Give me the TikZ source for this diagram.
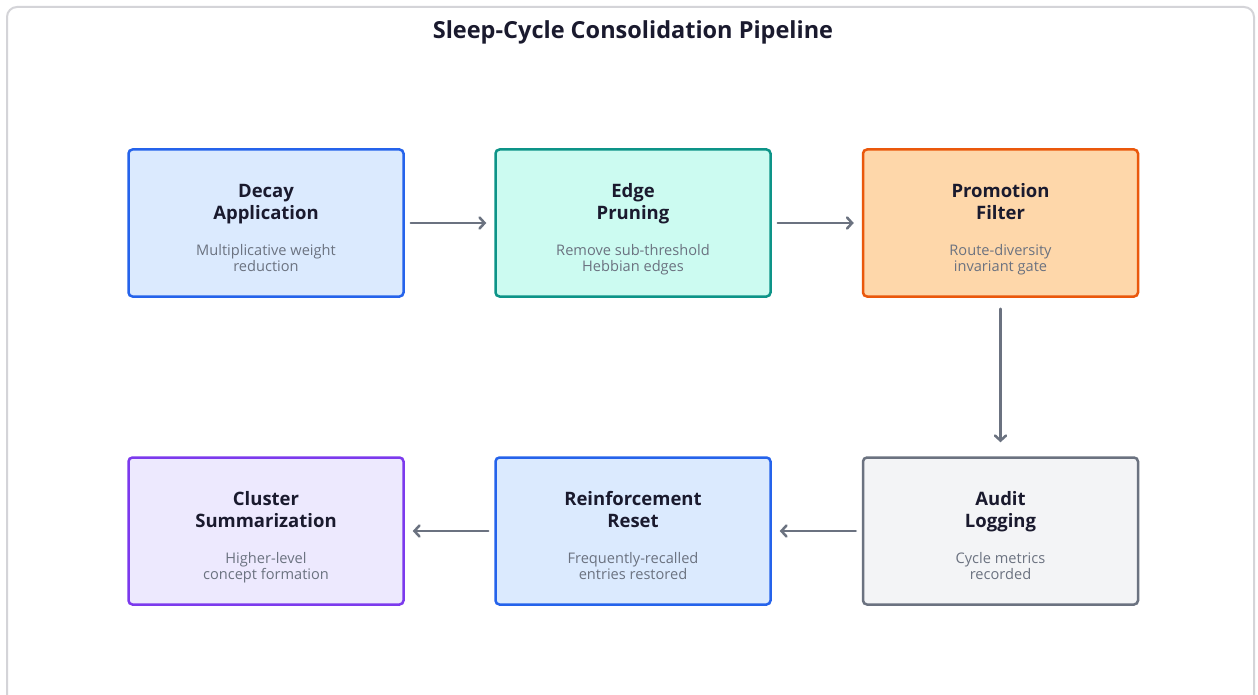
\documentclass[tikz,border=0pt]{standalone}
\usepackage{fontspec}
\setmainfont{Open Sans}
\usetikzlibrary{arrows.meta}

\definecolor{framec}{HTML}{D4D4D8}
\definecolor{titlec}{HTML}{1A1A2E}
\definecolor{subc}{HTML}{6B7280}
\definecolor{arrowc}{HTML}{6B7280}
\definecolor{blueF}{HTML}{DBEAFE}\definecolor{blueD}{HTML}{2563EB}
\definecolor{tealF}{HTML}{CCFBF1}\definecolor{tealD}{HTML}{0D9488}
\definecolor{orangeF}{HTML}{FED7AA}\definecolor{orangeD}{HTML}{EA580C}
\definecolor{grayF}{HTML}{F3F4F6}\definecolor{grayD}{HTML}{6B7280}
\definecolor{violetF}{HTML}{EDE9FE}\definecolor{violetD}{HTML}{7C3AED}

\tikzset{
  stagebox/.style={rounded corners=4pt, line width=2.5pt, minimum width=275pt,
    minimum height=147pt, inner sep=0pt},
  ttl/.style={font=\bfseries\fontsize{18.5}{22}\selectfont, text=titlec, anchor=base, inner sep=0pt},
  sub/.style={font=\fontsize{14.6}{17}\selectfont, text=subc, anchor=base, inner sep=0pt},
  flow/.style={draw=arrowc, line width=2.5pt, line cap=round,
    -{Straight Barb[length=5pt,width=11pt,line cap=round]}}
}

% \stagenode{name}{x}{y}{fill}{border}{title 1}{title 2}{sub 1}{sub 2}
\newcommand\stagenode[9]{%
  \node[stagebox, fill=#4, draw=#5] (#1) at (#2,#3) {};
  \node[ttl] (#1-ta) at ([yshift=26pt]#1.center) {#6};
  \node[ttl] (#1-tb) at ([yshift=4pt]#1.center) {#7};
  \node[sub] (#1-sa) at ([yshift=-32pt]#1.center) {#8};
  \node[sub] (#1-sb) at ([yshift=-48.5pt]#1.center) {#9};
}

\begin{document}
\begin{tikzpicture}[x=1pt,y=-1pt]
  \useasboundingbox (0,0) rectangle (1258,695);
  \clip (0,0) rectangle (1258,695);
  \fill[white] (0,0) rectangle (1258,695);
  \draw[framec, line width=2pt, rounded corners=10pt] (7,7) rectangle (1254,740);

  \node[font=\bfseries\fontsize{23.5}{28}\selectfont, text=titlec, anchor=base] (title) at (633,39) {Sleep-Cycle Consolidation Pipeline};

  \stagenode{decay}{266}{223}{blueF}{blueD}{Decay}{Application}{Multiplicative weight}{reduction}
  \stagenode{prune}{633}{223}{tealF}{tealD}{Edge}{Pruning}{Remove sub-threshold}{Hebbian edges}
  \stagenode{promo}{1000.5}{223}{orangeF}{orangeD}{Promotion}{Filter}{Route-diversity}{invariant gate}
  \stagenode{audit}{1000.5}{531}{grayF}{grayD}{Audit}{Logging}{Cycle metrics}{recorded}
  \stagenode{reinf}{633}{531}{blueF}{blueD}{Reinforcement}{Reset}{Frequently-recalled}{entries restored}
  \stagenode{clust}{266}{531}{violetF}{violetD}{Cluster}{Summarization}{Higher-level}{concept formation}

  \draw[flow] ([xshift=6pt]decay.east) -- ([xshift=-8pt]prune.west);
  \draw[flow] ([xshift=6pt]prune.east) -- ([xshift=-8pt]promo.west);
  \draw[flow] ([yshift=-11pt]promo.south) -- ([yshift=14pt]audit.north);
  \draw[flow] ([xshift=-6pt]audit.west) -- ([xshift=8pt]reinf.east);
  \draw[flow] ([xshift=-6pt]reinf.west) -- ([xshift=8pt]clust.east);
\end{tikzpicture}
\end{document}
